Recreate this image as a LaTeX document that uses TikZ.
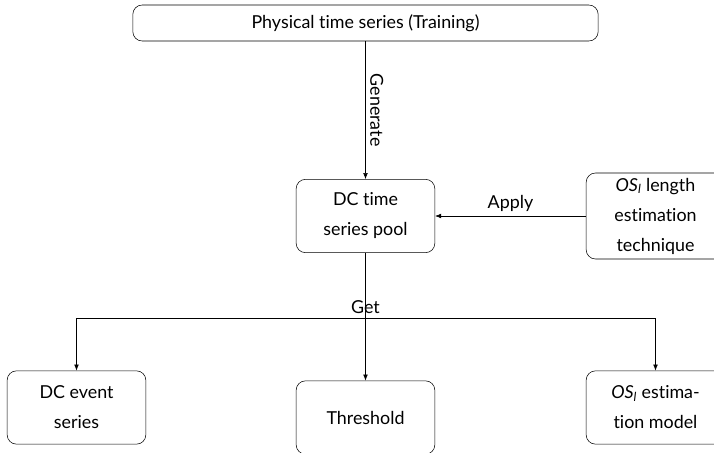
\documentclass[tikz,border=0pt]{standalone}
\usepackage{fontspec}
\setmainfont{Lato}[Ligatures={NoCommon,NoRare}]
\usetikzlibrary{positioning, arrows.meta, calc}

\tikzset{
  box/.style={draw, rounded corners=7pt, align=center, minimum width=104pt,
    minimum height=55pt, inner sep=3pt, font=\fontsize{13.4}{22.5}\selectfont},
  flow/.style={-{Latex[length=4.5pt,width=3.5pt]}, thin},
  lbl/.style={font=\fontsize{13.4}{15}\selectfont}
}
\newcommand{\osl}{\textit{OS}\textsubscript{\textit{l}}}

\begin{document}
\begin{tikzpicture}[x=0.75pt, y=-0.75pt]
  \useasboundingbox (0,0) rectangle (714,453);

  % 子圖形 physical (類型: box)
  \begin{scope}
    % 原始序列
    \node[box, minimum width=349pt, minimum height=27pt] (physical) at (365.5,23) {Physical time series (Training)};
  \end{scope}

  % 子圖形 pool (類型: box)
  \begin{scope}
    % DC 池
    \node[box] (pool) at (365.5,216) {DC time\\series pool};
  \end{scope}

  % 子圖形 technique (類型: box)
  \begin{scope}
    % 估計技術
    \node[box, minimum height=64.5pt] (technique) at (655.5,216) {\osl{} length\\estimation\\technique};
  \end{scope}

  % 子圖形 outputs (類型: box)
  \begin{scope}
    % 三個輸出
    \node[box] (events) at (76.5,407.5) {DC event\\series};
    \node[box] (threshold) at (365.5,417.5) {Threshold};
    \node[box] (osmodel) at (655.5,407.5) {\osl{} estima-\\tion model};
  \end{scope}

  % 子圖形 arrows (類型: line)
  \begin{scope}
    % 連線
    \draw[flow] (physical.south) -- node[lbl, midway, anchor=south, rotate=-90] (genlbl) {Generate} (pool.north);
    \draw[flow] (technique.west) -- node[lbl, midway, above] (applbl) {Apply} (technique.west -| pool.east);
    \coordinate (split) at (365.5,318);
    \node[lbl, above] (getlbl) at (split) {Get};
    \draw[flow] (pool.south) -- (threshold.north);
    \draw[flow] (split) -| (events.north);
    \draw[flow] (split) -| (osmodel.north);
  \end{scope}
\end{tikzpicture}
\end{document}
